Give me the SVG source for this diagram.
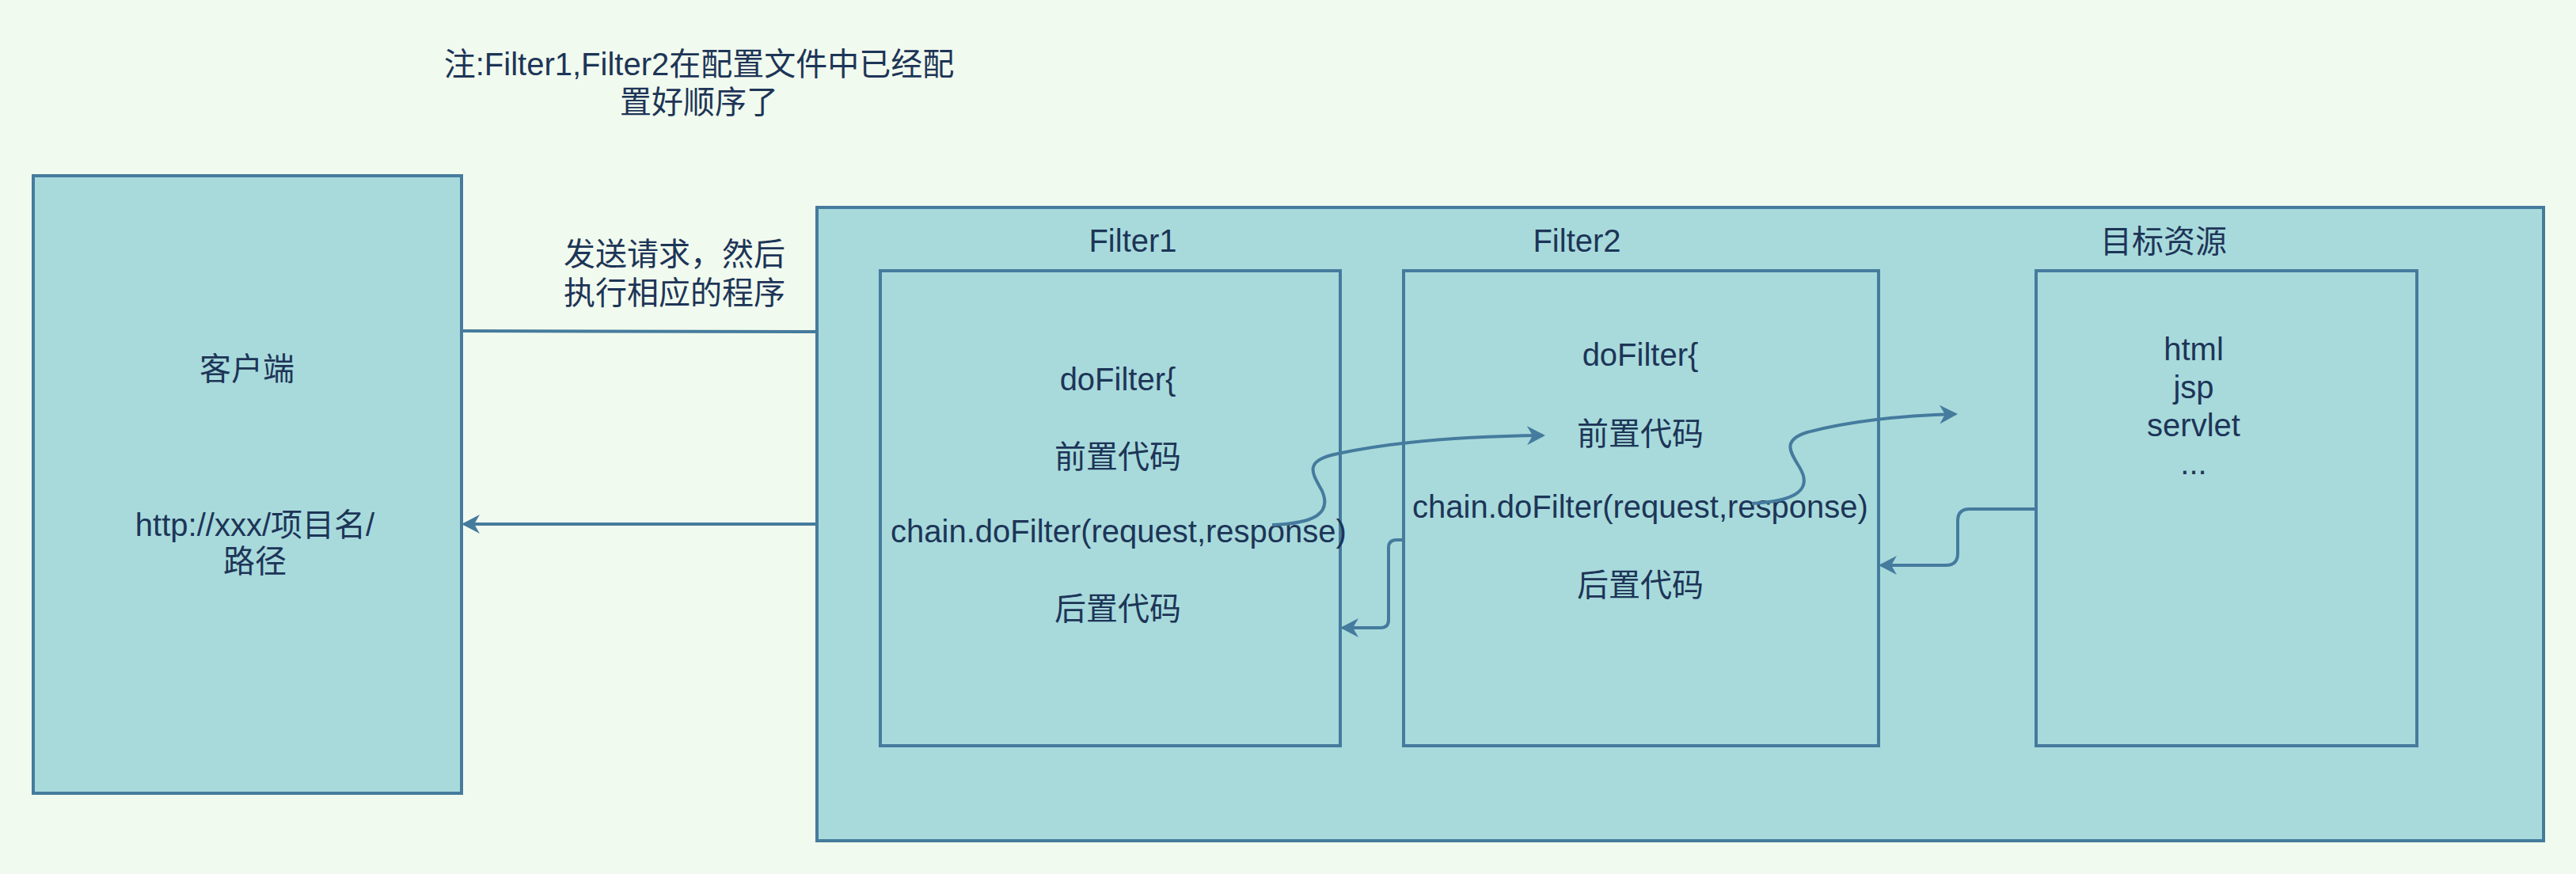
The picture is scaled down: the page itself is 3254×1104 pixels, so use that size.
<svg xmlns="http://www.w3.org/2000/svg" width="3254" height="1104" viewBox="0 0 3254 1104">
<style>
.box{fill:#A8DADC;stroke:#457B9D;stroke-width:4}
.t{font-family:"Liberation Sans","Noto Sans CJK SC",sans-serif;font-size:40px;fill:#1D3557;text-anchor:middle}
.c{fill:none;stroke:#457B9D;stroke-width:4}
</style>
<defs>
<marker id="arr" viewBox="0 0 23 24" refX="20" refY="12" markerWidth="23" markerHeight="24" markerUnits="userSpaceOnUse" orient="auto">
<path d="M23,12 L0,0 L7,12 L0,24 Z" fill="#457B9D"/>
</marker>
</defs>
<rect x="0" y="0" width="3254" height="1104" fill="#F1FAEE"/>
<g id="note">
<text class="t" x="883" y="95">注:Filter1,Filter2在配置文件中已经配</text>
<text class="t" x="883" y="143">置好顺序了</text>
</g>
<g id="client">
<rect class="box" x="42" y="222" width="541" height="780"/>
<text class="t" x="312" y="480">客户端</text>
<text class="t" x="322" y="677">http://xxx/项目名/</text>
<text class="t" x="322" y="723">路径</text>
</g>
<g id="container">
<rect class="box" x="1032" y="262" width="2181" height="800"/>
<text class="t" x="1431" y="318">Filter1</text>
<text class="t" x="1992" y="318">Filter2</text>
<text class="t" x="2733" y="319">目标资源</text>
</g>
<g id="filter1">
<rect class="box" x="1112" y="342" width="581" height="600"/>
<text class="t" x="1412" y="493">doFilter{</text>
<text class="t" x="1412" y="591">前置代码</text>
<text class="t" x="1413" y="685">chain.doFilter(request,response)</text>
<text class="t" x="1412" y="783">后置代码</text>
</g>
<g id="filter2">
<rect class="box" x="1773" y="342" width="600" height="600"/>
<text class="t" x="2072" y="462">doFilter{</text>
<text class="t" x="2072" y="562">前置代码</text>
<text class="t" x="2072" y="654">chain.doFilter(request,response)</text>
<text class="t" x="2072" y="753">后置代码</text>
</g>
<g id="target">
<rect class="box" x="2572" y="342" width="481" height="600"/>
<text class="t" x="2771" y="455">html</text>
<text class="t" x="2771" y="503">jsp</text>
<text class="t" x="2771" y="551">servlet</text>
<text class="t" x="2771" y="599">...</text>
</g>
<g id="sendlabel">
<text class="t" x="852" y="335">发送请求，然后</text>
<text class="t" x="852" y="384">执行相应的程序</text>
</g>
<g id="connectors">
<path class="c" d="M583,418 L1032,419"/>
<path class="c" d="M1032,662 L586,662" marker-end="url(#arr)"/>
<path class="c" d="M1607,663 C1662,661 1682,648 1670,620 C1658,598 1645,582 1690,573 C1760,558 1850,551 1949,550" marker-end="url(#arr)"/>
<path class="c" d="M2213,636 C2270,633 2290,618 2273,590 C2262,572 2250,556 2283,546 C2340,531 2400,525 2470,523" marker-end="url(#arr)"/>
<path class="c" d="M2572,643 L2488,643 Q2473,643 2473,658 L2473,699 Q2473,714 2458,714 L2376,714" marker-end="url(#arr)"/>
<path class="c" d="M1773,682 L1764,682 Q1754,682 1754,692 L1754,783 Q1754,793 1744,793 L1696,793" marker-end="url(#arr)"/>
</g>
</svg>
